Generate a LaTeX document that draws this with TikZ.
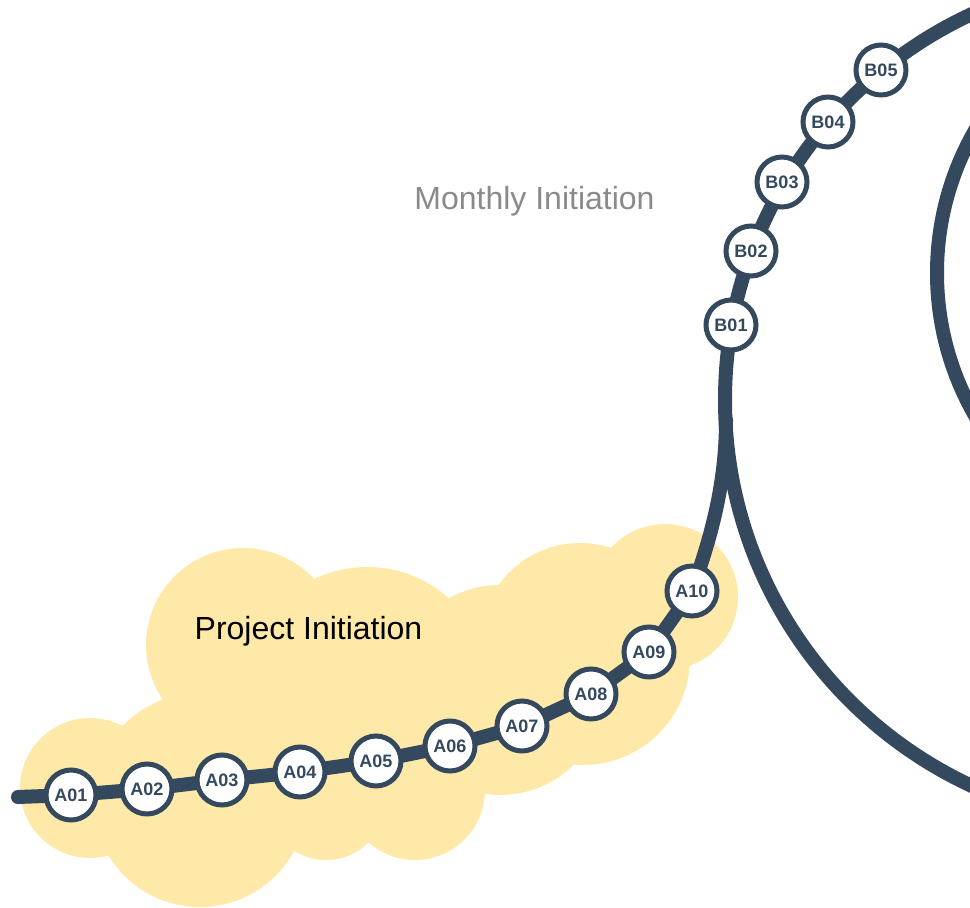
\documentclass[tikz,border=0pt]{standalone}
\usepackage{fontspec}
\setmainfont{Liberation Sans}
\pgfdeclarelayer{bg}
\pgfsetlayers{bg,main}
\definecolor{trackc}{HTML}{34495E}
\definecolor{cloudc}{HTML}{FEE9A8}
\definecolor{labelgray}{HTML}{8A8A8A}
\tikzset{
  station/.style={circle, draw=trackc, line width=5pt, fill=white, minimum size=50pt, inner sep=0pt,
    text=trackc, font=\fontsize{18}{18}\selectfont\bfseries},
  track/.style={draw=trackc, line width=14pt, line cap=round, line join=round},
  puff/.style={fill=cloudc},
}
\begin{document}
\begin{tikzpicture}[x=1pt,y=-1pt]
\useasboundingbox (0,0) rectangle (970,908);
\clip (0,0) rectangle (970,908);
% stations
\node[station] (A01) at (71,795) {A01};
\node[station] (A02) at (147,789) {A02};
\node[station] (A03) at (222,780) {A03};
\node[station] (A04) at (300,772) {A04};
\node[station] (A05) at (376,761) {A05};
\node[station] (A06) at (450,746) {A06};
\node[station] (A07) at (522,726) {A07};
\node[station] (A08) at (591,694) {A08};
\node[station] (A09) at (649,652) {A09};
\node[station] (A10) at (692,591) {A10};
\node[station] (B01) at (731,325) {B01};
\node[station] (B02) at (751,251) {B02};
\node[station] (B03) at (782,182) {B03};
\node[station] (B04) at (828,122) {B04};
\node[station] (B05) at (881,70) {B05};
\coordinate (start) at (18,797);
\coordinate (join) at (726,420);
\coordinate (bigc) at (1150,400);
\coordinate (innerc) at (1223,273);
% labels
\node[font=\fontsize{32}{32}\selectfont, text=black] (proj) at (308.5,631) {Project Initiation};
\node[font=\fontsize{32}{32}\selectfont, text=labelgray] (month) at (534.5,201) {Monthly Initiation};
\begin{pgfonlayer}{bg}
% cloud
\fill[puff] (90,788) circle (70);
\fill[puff] (215,785) circle (100);
\fill[puff] (200,800) circle (107);
\fill[puff] (243,645) circle (97);
\fill[puff] (367,690) circle (123);
\fill[puff] (470,690) circle (80);
\fill[puff] (580,643) circle (100);
\fill[puff] (665,597) circle (73);
\fill[puff] (583,658) circle (107);
\fill[puff] (500,690) circle (105);
\fill[puff] (326,800) circle (60);
\fill[puff] (415,790) circle (70);
% track
\draw[track] (start) -- (A01.center) -- (A02.center) -- (A03.center) -- (A04.center) -- (A05.center)
  -- (A06.center) -- (A07.center) -- (A08.center) -- (A09.center) -- (A10.center)
  .. controls (708,545) and (726,490) .. (join);
\draw[track] (bigc) circle (425);
\draw[track] (innerc) circle (286);
\end{pgfonlayer}
\end{tikzpicture}
\end{document}
